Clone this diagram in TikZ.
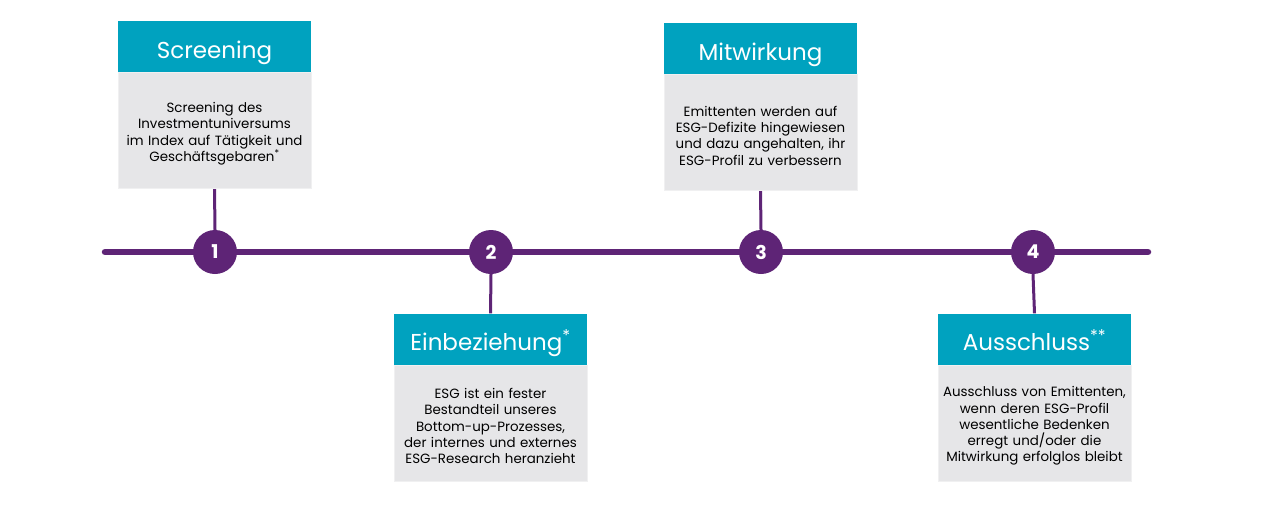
\documentclass[tikz,border=0pt]{standalone}
\usepackage{fontspec}
\setmainfont{Poppins}
\usepackage{xcolor}
\usetikzlibrary{positioning}

\definecolor{esgteal}{HTML}{00A2BF}
\definecolor{esggrey}{HTML}{E6E6E8}
\definecolor{esgpurple}{HTML}{5E2476}

\begin{document}
\begin{tikzpicture}[
    x=1pt, y=-1pt,
    headbox/.style={fill=esgteal, text=white, minimum width=193pt, minimum height=51pt,
                    inner sep=0pt, text height=23pt, text depth=0pt,
                    font=\fontsize{23}{27}\selectfont},
    bodybox/.style={fill=esggrey, draw=esggrey!60!white, line width=1pt, align=center,
                    minimum width=193pt, minimum height=116pt, text width=193pt,
                    inner sep=0pt, font=\fontsize{13.4}{16.3}\selectfont,
                    execute at begin node={\rule{0pt}{16pt}}},
    stepdot/.style={circle, fill=esgpurple, text=white, minimum size=44pt, inner sep=0pt,
                    font=\fontsize{19}{19}\selectfont\bfseries},
    link/.style={draw=esgpurple, line width=3pt}
]
  \useasboundingbox (0,0) rectangle (1280,507);

  % timeline
  \coordinate (tstart) at (105,252);
  \coordinate (tend) at (1148,252);
  \draw[esgpurple, line width=6.5pt, line cap=round] (tstart) -- (tend);

  % boxes above
  \node[headbox] (head1) at (214.5,46.5) {Screening};
  \node[bodybox, below=0pt of head1] (body1) {Screening des\\Investmentuniversums\\im Index auf Tätigkeit und\\Geschäftsgebaren\textsuperscript{*}};
  \node[headbox] (head3) at (760.5,48.5) {Mitwirkung};
  \node[bodybox, below=0pt of head3] (body3) {Emittenten werden auf\\ESG-Defizite hingewiesen\\und dazu angehalten, ihr\\ESG-Profil zu verbessern};

  % boxes below
  \node[headbox] (head2) at (490.5,339) {Einbeziehung\textsuperscript{*}};
  \node[bodybox, below=0pt of head2] (body2) {ESG ist ein fester\\Bestandteil unseres\\Bottom-up-Prozesses,\\der internes und externes\\ESG-Research heranzieht};
  \node[headbox] (head4) at (1034.5,339) {Ausschluss\textsuperscript{**}};
  \node[bodybox, below=0pt of head4] (body4) {Ausschluss von Emittenten,\\wenn deren ESG-Profil\\wesentliche Bedenken\\erregt und/oder die\\Mitwirkung erfolglos bleibt};

  % steps
  \node[stepdot] (dot1) at (215,252) {1};
  \node[stepdot] (dot2) at (491,252) {2};
  \node[stepdot] (dot3) at (761,252) {3};
  \node[stepdot] (dot4) at (1033,252) {4};

  \draw[link] (body1.south) -- (dot1.north);
  \draw[link] (body3.south) -- (dot3.north);
  \draw[link] (dot2.south) -- (head2.north);
  \draw[link] (dot4.south) -- (head4.north);
\end{tikzpicture}
\end{document}
